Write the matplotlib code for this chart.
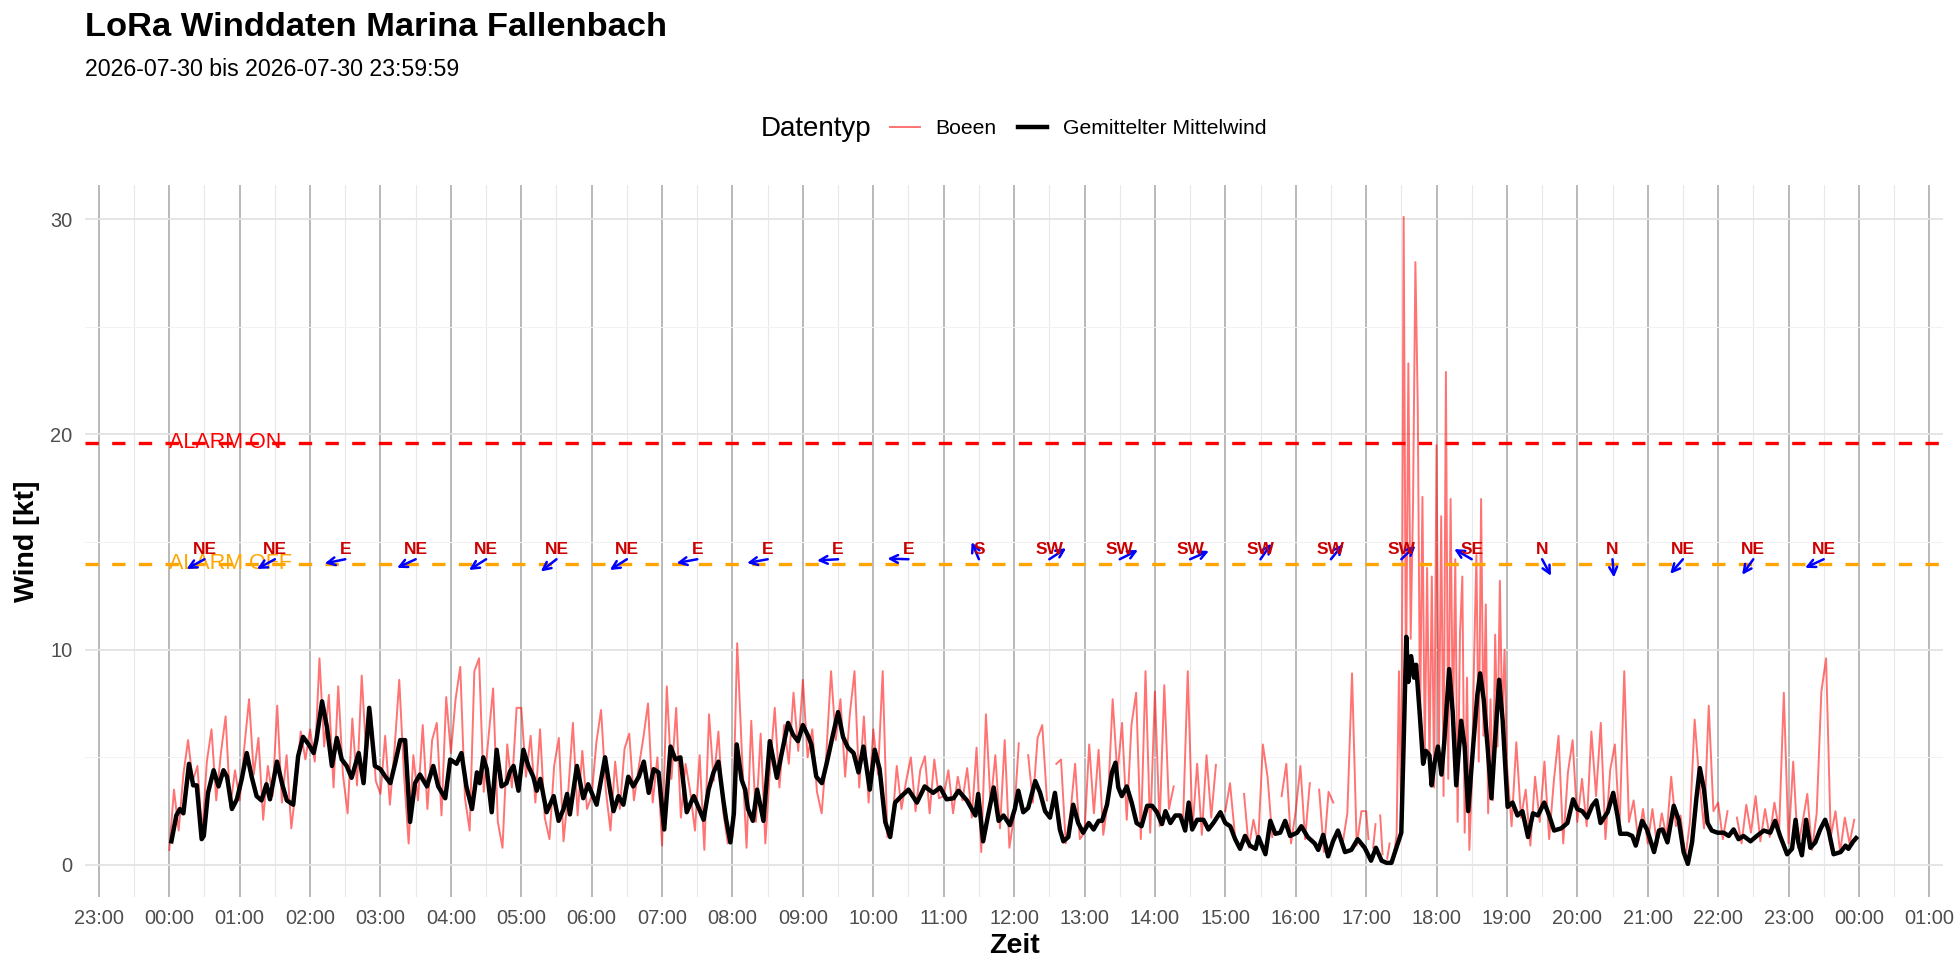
import numpy as np
import matplotlib
matplotlib.use("Agg")
import matplotlib.pyplot as plt

plt.rcParams['font.family'] = ['Liberation Sans', 'DejaVu Sans']

# Boeen (kt), eine Zeile pro Stunde, Werte gleichmaessig ueber die Stunde verteilt, None = Luecke
boeen_stunden = [
    [0.7, 3.5, 1.6, 4.2, 5.8, 3.9, 4.6, 1.4, 4.8, 6.3, 3.0, 5.2, 6.9, 2.7, 4.4],
    [3.0, 5.5, 7.7, 4.2, 5.9, 2.1, 4.6, 3.2, 7.4, 2.9, 5.1, 1.7, 3.6, 6.2, 4.9],
    [6.3, 4.8, 9.6, 5.5, 7.9, 3.6, 8.3, 4.2, 2.4, 6.8, 3.7, 8.8, 5.0, 7.1, 3.9],
    [3.3, 6.0, 2.8, 5.4, 8.6, 4.2, 1.0, 5.1, 3.0, 6.5, 2.6, 5.8, 6.6, 2.3, 7.8],
    [5.2, 7.7, 9.2, 3.1, 1.6, 9.0, 9.6, 3.4, 5.9, 8.2, 2.0, 0.8, 5.6, 3.6, 7.3],
    [7.3, 4.1, 6.0, 2.9, 6.3, 2.2, 1.2, 4.6, 5.9, 1.1, 3.4, 6.6, 2.3, 5.3, 2.6],
    [3.2, 5.7, 7.2, 3.5, 1.6, 4.8, 2.6, 5.4, 6.1, 3.0, 4.5, 5.9, 7.5, 2.9, 5.0],
    [0.9, 8.3, 4.0, 7.3, 2.2, 4.7, 3.4, 1.6, 5.1, 0.7, 7.0, 3.9, 6.2, 2.5, 1.0],
    [1.3, 10.3, 5.2, 0.8, 6.7, 2.0, 6.1, 1.0, 4.5, 7.3, 3.6, 6.5, 4.7, 8.0, 5.3],
    [8.6, 5.0, 6.3, 3.4, 2.4, 5.2, 9.0, 5.8, 7.7, 4.1, 7.0, 9.0, 3.6, 6.9, 2.9],
    [6.3, 4.2, 9.0, 1.3, 1.8, 4.6, 2.6, 3.9, 5.0, 2.5, 4.4, 5.05, 2.4, 4.9, 3.1],
    [3.2, 4.4, 2.4, 4.1, 3.0, 4.5, 2.2, 5.45, 0.6, 7.0, 2.8, 5.1, 1.7, 5.8, 0.8],
    [2.3, 5.65, None, 5.1, 2.9, 5.9, 6.5, 3.0, None, 4.7, 4.9, 1.0, 2.4, 4.7, 1.2],
    [1.5, 5.6, 2.4, 5.35, 1.4, 3.0, 7.7, 4.2, 6.6, 2.1, 6.5, 8.0, 1.2, 9.0, 1.5],
    [8.05, 1.8, 8.35, 2.6, 3.65, None, 2.0, 9.0, 1.6, 4.7, 1.4, 5.1, 2.2, 4.65, None],
    [2.5, 3.8, 1.5, None, 3.3, 0.8, 2.1, 1.0, 5.6, 4.1, 1.3, None, 3.2, 4.7, 1.0],
    [2.5, 4.6, 1.2, 3.8, None, 3.5, 0.6, 3.4, 2.9, None, 1.0, 2.4, 8.9, 0.9, 2.5],
    [2.5, 1.2, None, 0.8, 1.9, None, 2.3, 0.5, None, 0.3, 1.0, None, 0.6, 1.4, 9.0,
     1.6, 30.1, 8.0, 23.3, 10.5, 16.8, 28.0, 21.4, 6.5, 17.1, 5.0, 13.8, 4.6, 13.4, 3.6],
    [19.5, 5.0, 16.2, 3.2, 22.9, 4.0, 17.0, 6.2, 14.2, 2.0, 10.7, 13.4, 1.5, 8.7, 0.7,
     3.7, 9.5, 14.4, 4.8, 17.0, 6.0, 12.1, 2.4, 7.7, 3.0, 10.7, 5.5, 13.2, 6.6, 10.0],
    [4.7, 1.8, 5.7, 2.2, 3.5, 0.9, 4.1, 2.0, 4.8, 1.2, 3.9, 6.0, 1.0, 4.3, 5.8],
    [2.0, 4.0, 1.8, 6.2, 3.2, 6.6, 1.2, 4.4, 5.6, 1.7, 9.0, 2.0, 3.0, 1.1, 2.6],
    [1.0, 2.6, 0.9, 2.4, 1.3, 4.1, 1.8, 2.3, 0.3, 2.0, 6.75, 3.9, 1.7, 7.4, 2.5],
    [2.9, 1.2, 2.5, None, 2.2, 1.0, 2.8, 1.5, 3.2, 1.1, 2.6, 1.3, 2.9, 1.6, 8.0],
    [1.0, 4.8, 0.8, 2.0, 3.3, 0.7, 2.4, 8.05, 9.6, 1.3, 2.5, 0.6, 2.2, 1.0, 2.1],
]

# gemittelter Mittelwind: Zeit in Stunden, Wert in kt
mittel_h = [
    0.03, 0.10, 0.15, 0.20, 0.28, 0.34, 0.39, 0.46, 0.49, 0.55, 0.63, 0.70, 0.77, 0.82, 0.89, 0.96,
    1.03, 1.10, 1.17, 1.24, 1.31, 1.38, 1.43, 1.53, 1.60, 1.67, 1.76, 1.83, 1.90, 1.98,
    2.05, 2.09, 2.17, 2.24, 2.31, 2.38, 2.45, 2.52, 2.59, 2.69, 2.76, 2.84, 2.92,
    3.00, 3.07, 3.14, 3.21, 3.28, 3.35, 3.42, 3.49, 3.56, 3.66, 3.75, 3.82, 3.92, 3.99,
    4.08, 4.15, 4.22, 4.30, 4.37, 4.41, 4.46, 4.51, 4.58, 4.65, 4.72, 4.79, 4.84, 4.89, 4.96,
    5.03, 5.10, 5.17, 5.22, 5.27, 5.36, 5.46, 5.53, 5.60, 5.65, 5.69, 5.79, 5.88, 5.95,
    6.07, 6.19, 6.26, 6.31, 6.38, 6.45, 6.52, 6.59, 6.67, 6.74, 6.81, 6.88, 6.95,
    7.03, 7.12, 7.19, 7.26, 7.35, 7.45, 7.52, 7.59, 7.66, 7.73, 7.80, 7.87, 7.91, 7.97,
    8.02, 8.06, 8.13, 8.18, 8.22, 8.29, 8.35, 8.44, 8.53, 8.63, 8.70, 8.79, 8.86, 8.93,
    9.00, 9.08, 9.12, 9.19, 9.27, 9.34, 9.43, 9.50, 9.57, 9.64, 9.72, 9.79, 9.86, 9.95,
    10.02, 10.09, 10.17, 10.24, 10.31, 10.40, 10.50, 10.62, 10.73, 10.85, 10.95,
    11.04, 11.14, 11.21, 11.33, 11.45, 11.49, 11.56, 11.63, 11.71, 11.78, 11.85, 11.94,
    12.01, 12.06, 12.13, 12.20, 12.30, 12.37, 12.44, 12.51, 12.58, 12.65, 12.70, 12.77, 12.84, 12.91, 12.98,
    13.06, 13.13, 13.20, 13.25, 13.32, 13.39, 13.44, 13.48, 13.53, 13.60, 13.67, 13.74, 13.81, 13.89, 13.96,
    14.03, 14.10, 14.15, 14.22, 14.29, 14.36, 14.43, 14.48, 14.53, 14.60, 14.69, 14.76, 14.83, 14.93,
    15.00, 15.07, 15.14, 15.21, 15.28, 15.35, 15.43, 15.47, 15.57, 15.64, 15.71, 15.78, 15.85, 15.92,
    16.02, 16.08, 16.17, 16.27, 16.32, 16.39, 16.46, 16.53, 16.60, 16.70, 16.79, 16.88, 16.98,
    17.07, 17.14, 17.22, 17.29, 17.36, 17.43, 17.50, 17.54, 17.57, 17.60, 17.64, 17.68, 17.71,
    17.76, 17.81, 17.85, 17.90, 17.93, 17.97,
    18.02, 18.07, 18.11, 18.18, 18.23, 18.28, 18.35, 18.40, 18.45, 18.52, 18.58, 18.62, 18.67,
    18.73, 18.78, 18.83, 18.89, 18.94,
    19.01, 19.08, 19.15, 19.22, 19.30, 19.37, 19.44, 19.53, 19.60, 19.67, 19.77, 19.86, 19.94,
    20.00, 20.07, 20.14, 20.21, 20.27, 20.33, 20.43, 20.51, 20.57, 20.61, 20.71, 20.78, 20.83, 20.92, 20.99,
    21.09, 21.16, 21.21, 21.28, 21.37, 21.44, 21.51, 21.57, 21.63, 21.69, 21.74, 21.80, 21.85, 21.91, 21.99,
    22.08, 22.15, 22.22, 22.29, 22.36, 22.46, 22.55, 22.65, 22.74, 22.81, 22.88, 22.98,
    23.05, 23.10, 23.14, 23.19, 23.25, 23.31, 23.38, 23.45, 23.52, 23.57, 23.64, 23.74, 23.81, 23.85,
    23.92, 23.96,
]
mittel_kt = [
    1.1, 2.3, 2.6, 2.4, 4.7, 3.7, 3.7, 1.2, 1.35, 3.35, 4.4, 3.65, 4.4, 4.1, 2.6, 3.05,
    4.0, 5.2, 4.1, 3.2, 3.0, 3.75, 3.05, 4.8, 3.8, 3.0, 2.8, 5.05, 5.95, 5.6,
    5.2, 5.8, 7.6, 6.4, 4.6, 5.9, 4.9, 4.6, 4.05, 5.2, 3.8, 7.3, 4.6,
    4.45, 4.1, 3.8, 4.75, 5.8, 5.8, 2.0, 3.8, 4.2, 3.65, 4.6, 3.65, 3.1, 4.9,
    4.7, 5.2, 3.65, 2.6, 4.3, 3.8, 5.0, 4.45, 2.45, 5.35, 3.65, 3.8, 4.35, 4.6, 3.45,
    5.35, 4.6, 4.1, 3.45, 4.0, 2.45, 3.2, 2.05, 2.6, 3.3, 2.35, 4.6, 3.1, 3.75,
    2.8, 5.0, 3.5, 2.5, 3.2, 2.8, 4.1, 3.65, 4.1, 4.8, 3.35, 4.45, 4.3,
    1.65, 5.5, 4.9, 5.0, 2.45, 3.2, 2.65, 2.1, 3.5, 4.3, 4.8, 3.0, 2.1, 1.05,
    2.4, 5.6, 3.95, 3.5, 2.6, 2.05, 3.5, 2.05, 5.75, 4.05, 5.2, 6.6, 6.05, 5.75,
    6.5, 5.95, 5.6, 4.1, 3.8, 4.75, 6.1, 7.1, 5.95, 5.45, 5.2, 4.3, 5.5, 3.5,
    5.35, 4.45, 2.0, 1.3, 2.9, 3.2, 3.5, 2.9, 3.65, 3.35, 3.6,
    3.05, 3.1, 3.45, 3.0, 2.3, 3.3, 1.1, 2.3, 3.6, 2.05, 2.3, 1.85,
    2.6, 3.45, 2.45, 2.65, 3.9, 3.35, 2.5, 2.2, 3.35, 1.65, 1.1, 1.3, 2.8, 1.95, 1.5,
    1.95, 1.65, 2.05, 2.05, 2.8, 4.3, 4.75, 3.6, 3.2, 3.65, 2.9, 1.95, 1.8, 2.75, 2.75,
    2.45, 1.9, 2.5, 1.95, 2.3, 2.3, 1.6, 2.9, 1.65, 2.1, 2.1, 1.65, 1.95, 2.45,
    1.95, 1.8, 1.2, 0.75, 1.35, 0.9, 0.75, 1.3, 0.5, 2.05, 1.45, 1.5, 2.05, 1.35,
    1.5, 1.8, 1.3, 1.0, 0.7, 1.4, 0.4, 1.1, 1.6, 0.6, 0.7, 1.2, 0.8,
    0.2, 0.8, 0.2, 0.1, 0.1, 0.8, 1.5, 6.5, 10.6, 8.5, 9.7, 8.7, 9.3,
    7.1, 4.7, 5.3, 5.1, 3.7, 4.7,
    5.5, 4.2, 5.7, 9.1, 7.1, 3.7, 6.7, 5.5, 2.5, 5.5, 7.9, 8.9, 7.7,
    5.3, 3.1, 5.7, 8.6, 6.7,
    2.7, 2.9, 2.3, 2.5, 1.3, 2.4, 2.3, 2.9, 2.3, 1.6, 1.7, 1.95, 3.05,
    2.6, 2.5, 2.2, 2.75, 3.0, 1.95, 2.45, 3.35, 2.3, 1.45, 1.45, 1.35, 0.9, 2.05, 1.65,
    0.6, 1.6, 1.65, 1.05, 2.75, 2.1, 0.6, 0.05, 1.05, 3.05, 4.5, 3.5, 1.95, 1.6, 1.5,
    1.5, 1.35, 1.65, 1.2, 1.35, 1.1, 1.35, 1.6, 1.5, 2.05, 1.35, 0.5,
    0.75, 2.1, 1.05, 0.45, 2.1, 0.8, 1.05, 1.65, 2.1, 1.6, 0.5, 0.6, 0.9, 0.75,
    1.1, 1.25,
]

# Windrichtung je Stunde (Label bei hh:30), Grad "aus"
richtung_label = ['NE', 'NE', 'E', 'NE', 'NE', 'NE', 'NE', 'E', 'E', 'E', 'E', 'S',
                  'SW', 'SW', 'SW', 'SW', 'SW', 'SW', 'SE', 'N', 'N', 'NE', 'NE', 'NE']
richtung_grad = [58, 58, 77, 62, 54, 48, 54, 78, 78, 86, 92, 160,
                 233, 240, 243, 211, 215, 222, 124, 335, 356, 37, 32, 62]

alarm_on = 19.6
alarm_off = 14.0

g_t, g_v = [], []
for h, row in enumerate(boeen_stunden):
    n = len(row)
    for i, val in enumerate(row):
        g_t.append(h + i / n)
        g_v.append(np.nan if val is None else val)

fig = plt.figure(figsize=(19.6, 9.8), dpi=100)
ax = fig.add_axes([84.8 / 1960, 82.6 / 980, 1858.6 / 1960, 712.8 / 980])

l1, = ax.plot(g_t, g_v, color='red', alpha=0.55, lw=1.4, label='Boeen')
l2, = ax.plot(mittel_h, mittel_kt, color='black', lw=3.2, label='Gemittelter Mittelwind',
              solid_joinstyle='round')

ax.axhline(alarm_on, color='red', lw=2.4, ls=(0, (4, 4)))
ax.axhline(alarm_off, color='orange', lw=2.4, ls=(0, (4, 4)))
ax.text(0, alarm_on, 'ALARM ON', color='red', fontsize=15.5, ha='left', va='center')
ax.text(0, alarm_off, 'ALARM OFF', color='orange', fontsize=15.5, ha='left', va='center')

for h, (lab, deg) in enumerate(zip(richtung_label, richtung_grad)):
    x0 = h + 0.5
    a = np.deg2rad(deg + 180)
    ax.annotate('', xy=(x0 + 0.3 * np.sin(a), 14.2 + 0.85 * np.cos(a)), xytext=(x0, 14.2),
                arrowprops=dict(arrowstyle='->', color='blue', lw=1.8,
                                shrinkA=0, shrinkB=0, mutation_scale=14))
    ax.text(x0, 14.65, lab, color='#cc0000', fontsize=12.5, fontweight='bold',
            ha='center', va='center')

ax.set_xlim(-1.2, 25.2)
ax.set_ylim(-1.505, 31.6)
ax.set_xticks(range(-1, 26))
ax.set_xticklabels(['%02d:00' % (h % 24) for h in range(-1, 26)])
ax.set_xticks(np.arange(-0.5, 25.5, 1.0), minor=True)
ax.set_yticks([0, 10, 20, 30])
ax.set_yticks([5, 15, 25], minor=True)
ax.grid(which='major', axis='x', color='#b3b3b3', lw=1.3)
ax.grid(which='minor', axis='x', color='#e8e8e8', lw=0.8)
ax.grid(which='major', axis='y', color='#e3e3e3', lw=1.3)
ax.grid(which='minor', axis='y', color='#f2f2f2', lw=0.8)
ax.set_axisbelow(True)
for s in ax.spines.values():
    s.set_visible(False)
ax.tick_params(which='both', length=0)
ax.tick_params(axis='x', labelsize=14.4, labelcolor='#4d4d4d', pad=8)
ax.tick_params(axis='y', labelsize=14.4, labelcolor='#4d4d4d', pad=9)
ax.set_xlabel('Zeit', fontsize=20.5, fontweight='bold', labelpad=4)
ax.set_ylabel('Wind [kt]', fontsize=20.5, fontweight='bold', labelpad=7)

fig.text(85 / 1960, 1 - 27.5 / 980, 'LoRa Winddaten Marina Fallenbach', fontsize=24.8,
         fontweight='bold', ha='left', va='center')
fig.text(85 / 1960, 1 - 70 / 980, '2026-07-30 bis 2026-07-30 23:59:59', fontsize=16.7,
         ha='left', va='center')

fig.text(761 / 1960, 1 - 129 / 980, 'Datentyp', fontsize=20, ha='left', va='center')
fig.legend([l1, l2], ['Boeen', 'Gemittelter Mittelwind'], loc='center left',
           bbox_to_anchor=(890 / 1960, 1 - 129 / 980), ncol=2, frameon=False, fontsize=15.2,
           handlelength=1.4, handletextpad=0.75, columnspacing=1.0, borderpad=0, borderaxespad=0)

fig.savefig('out.png', dpi=100)
